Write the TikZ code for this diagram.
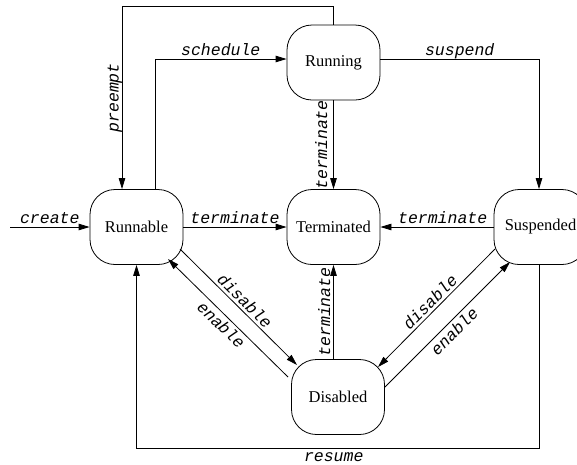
\documentclass[tikz,border=0pt]{standalone}
\usepackage{fontspec}
\setmainfont{Liberation Serif}
\newfontfamily\labelfont{Liberation Mono}
\usetikzlibrary{arrows.meta}

\begin{document}
\begin{tikzpicture}[x=1pt,y=-1pt,line width=.8pt,
    >={Triangle[length=11pt,width=6.5pt]},
    state/.style={draw,rounded corners=25pt,minimum width=93pt,minimum height=75pt,
      font=\fontsize{16.5}{19}\selectfont},
    lbl/.style={font=\labelfont\itshape\fontsize{16.5}{19}\selectfont,
      inner sep=3pt,text depth=0pt}]

      \useasboundingbox (0,0) rectangle (577,464);

      \begin{scope}[every node/.style=state]
        \node (running)    at (333.5,62.5) {Running};
        \node (runnable)   at (136.5,227)  {Runnable};
        \node (terminated) at (333.5,227)  {Terminated};
        \node (suspended)  at (540.5,227)  {Suspended};
        \node (disabled)   at (338,397)    {Disabled};
      \end{scope}

      \coordinate (entry) at (10,227);

      \begin{scope}[every node/.style=lbl]
        % straight ones
        \draw[->] (entry) -- node[above] {create} (runnable);
        \draw[->] (runnable) -- node[above] {terminate} (terminated);
        \draw[->] (suspended) -- node[above,pos=.45] {terminate} (terminated);
        \draw[->] (running) -- node[rotate=90,anchor=south,inner sep=6pt] {terminate} (terminated);
        \draw[->] (disabled.north -| terminated) -- node[rotate=90,anchor=south] {terminate} (terminated.south);

        % around the corners
        \draw[->] ([xshift=18.5]runnable.north) |- node[pos=.75,above] {schedule} ([yshift=3.5]running.west);
        \draw[->] (running.north) -- ++(0,-18) -| node[pos=.75,rotate=90,anchor=south] {preempt} ([xshift=-14.5]runnable.north);
        \draw[->] ([yshift=3.5]running.east) -| node[pos=.25,above] {suspend} ([xshift=-1.5]suspended.north);
        \draw[->] ([xshift=-1.5]suspended.south) -- ++(0,183.5) -| node[pos=.255,below,inner sep=4pt] {resume} (runnable.south);

        % diagonals
        \draw[->] ([shift={(43.5,22)}]runnable.center) -- node[sloped,above] {disable} ([shift={(-41,-32)}]disabled.center);
        \draw[<-] ([shift={(31.5,32)}]runnable.center) -- node[sloped,below] {enable} ([shift={(-50,-20)}]disabled.center);
        \draw[<-] ([shift={(40,-30)}]disabled.center) -- node[sloped,above] {disable} ([shift={(-45.5,22)}]suspended.center);
        \draw[->] ([shift={(47,-10)}]disabled.center) -- node[sloped,below] {enable} ([shift={(-30.5,35)}]suspended.center);
      \end{scope}

    \end{tikzpicture}
\end{document}
